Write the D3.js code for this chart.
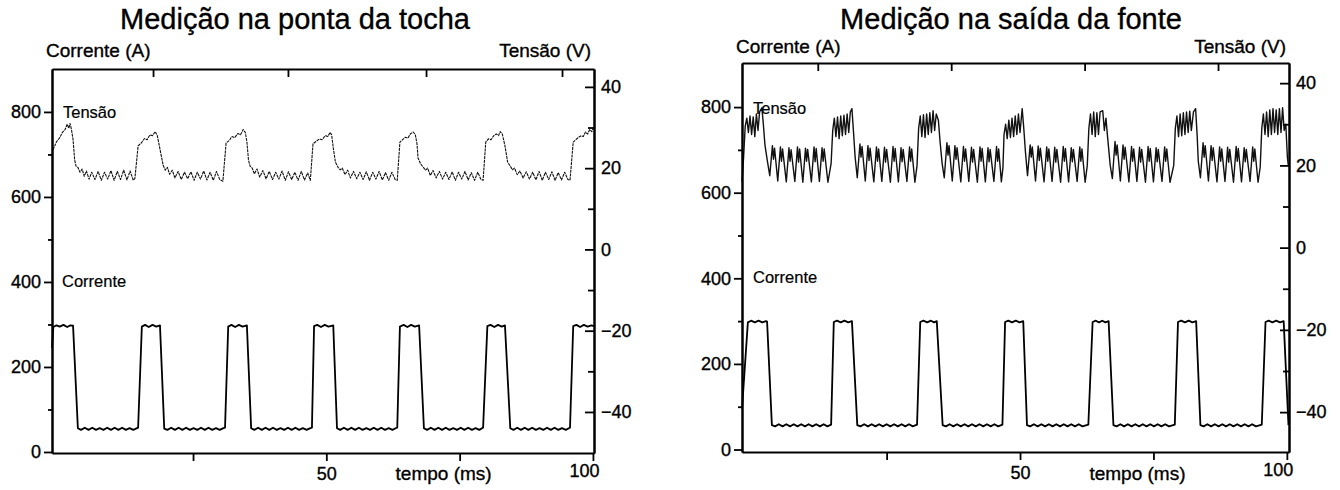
<!DOCTYPE html>
<html>
<head>
<meta charset="utf-8">
<script src="https://cdn.jsdelivr.net/npm/d3@7"></script>
<style>
  body { margin: 0; background: #fff; }
  text { font-family: 'Liberation Sans', Arial, sans-serif; fill: #000; stroke: #000; stroke-width: 0.35px; }
</style>
</head>
<body>
<svg id="chart"></svg>
<script>
// tempo (ms), corrente (A) / tensão (V)

// --- medição na ponta da tocha ---
const correnteTocha = [
  [-1.45, 245], [-1.2, 294], [-0.6, 298], [0, 295], [0.7, 299], [1.4, 294], [2.0, 298], [2.5, 297], [3.4, 56],
  [4.0, 52], [4.7, 57], [5.4, 52], [6.1, 57], [6.8, 52], [7.5, 56], [8.2, 52], [8.9, 57], [9.6, 52], [10.3, 57], [11.0, 52], [11.7, 57], [12.4, 52], [13.1, 56], [13.8, 52], [14.5, 56], [14.7, 57],
  [15.4, 295], [16.0, 299], [16.7, 294], [17.4, 299], [18.1, 295], [18.8, 298], [19.6, 55],
  [20.2, 52], [20.9, 57], [21.6, 52], [22.3, 57], [23.0, 52], [23.7, 57], [24.4, 52], [25.1, 56], [25.8, 52], [26.5, 57], [27.2, 52], [27.9, 57], [28.6, 52], [29.3, 56], [30.0, 52], [30.7, 56], [31.0, 57],
  [31.6, 295], [32.2, 299], [32.9, 294], [33.6, 299], [34.3, 295], [35.1, 298], [35.9, 56],
  [36.5, 52], [37.2, 57], [37.9, 52], [38.6, 57], [39.3, 52], [40.0, 57], [40.7, 52], [41.4, 56], [42.1, 52], [42.8, 57], [43.5, 52], [44.2, 57], [44.9, 52], [45.6, 56], [46.3, 52], [47.0, 56], [47.3, 57],
  [47.7, 296], [48.3, 299], [49.0, 294], [49.7, 299], [50.4, 295], [51.3, 298], [52.0, 56],
  [52.6, 52], [53.3, 57], [54.0, 52], [54.7, 57], [55.4, 52], [56.1, 57], [56.8, 52], [57.5, 56], [58.2, 52], [58.9, 57], [59.6, 52], [60.3, 57], [61.0, 52], [61.7, 56], [62.4, 52], [63.0, 56], [63.3, 57],
  [63.8, 295], [64.5, 299], [65.2, 294], [65.9, 299], [66.6, 295], [67.4, 298], [68.3, 56],
  [68.9, 52], [69.6, 57], [70.3, 52], [71.0, 57], [71.7, 52], [72.4, 57], [73.1, 52], [73.8, 56], [74.5, 52], [75.2, 57], [75.9, 52], [76.6, 57], [77.3, 52], [78.0, 56], [78.7, 52], [79.2, 56], [79.4, 57],
  [80.2, 296], [80.8, 299], [81.5, 294], [82.2, 299], [82.9, 295], [83.5, 298], [84.5, 56],
  [85.1, 52], [85.8, 57], [86.5, 52], [87.2, 57], [87.9, 52], [88.6, 57], [89.3, 52], [90.0, 56], [90.7, 52], [91.4, 57], [92.1, 52], [92.8, 57], [93.5, 52], [94.2, 56], [94.9, 52], [95.5, 56], [95.7, 57],
  [96.3, 296], [96.9, 299], [97.6, 294], [98.3, 299], [99.0, 295], [99.7, 298], [100.2, 296]
]

const tensaoTocha = [
  [-1.26, 24.5], [-0.6, 26.5], [0, 27.5], [0.5, 28.8], [1.0, 29.5], [1.4, 30.8], [1.7, 29.8], [1.93, 31.0], [2.2, 29.5], [2.5, 27], [2.8, 22], [3.06, 20.5],
  [3.4, 20.2], [3.8, 19.0], [4.2, 19.8], [4.6, 18.0], [5.0, 19.3], [5.5, 17.3], [6.0, 19.0], [6.6, 17.2], [7.2, 19.2], [7.8, 17.0], [8.4, 19.0], [9.0, 17.3], [9.6, 19.4], [10.2, 17.0], [10.8, 19.2], [11.4, 17.2], [12.0, 19.5], [12.6, 17.1], [13.2, 19.3], [13.8, 17.0], [14.1, 17.5],
  [14.7, 25.5], [15.3, 26.2], [15.9, 27.3], [16.4, 27.0], [16.9, 28.2], [17.4, 28.0], [17.9, 29.0], [18.3, 28.0], [18.9, 24], [19.4, 20.7],
  [19.8, 19.5], [20.2, 20.2], [20.6, 18.5], [21.1, 19.5], [21.6, 17.6], [22.2, 19.2], [22.8, 17.2], [23.4, 19.0], [24.0, 17.4], [24.6, 19.1], [25.2, 17.0], [25.8, 19.0], [26.4, 17.3], [27.0, 19.3], [27.6, 17.1], [28.2, 19.0], [28.8, 17.0], [29.4, 19.2], [30.0, 17.2], [30.6, 16.8],
  [31.2, 26.2], [31.8, 26.8], [32.3, 27.8], [32.8, 27.5], [33.4, 28.5], [33.9, 28.2], [34.4, 29.5], [34.8, 28.8], [35.1, 26.5], [35.4, 22], [35.7, 20.5],
  [36.1, 20.0], [36.5, 18.6], [37.0, 19.8], [37.5, 17.8], [38.1, 19.4], [38.7, 17.4], [39.3, 19.2], [39.9, 17.2], [40.5, 19.0], [41.1, 17.3], [41.7, 19.3], [42.3, 17.0], [42.9, 19.1], [43.5, 17.2], [44.1, 19.0], [44.7, 17.0], [45.3, 19.2], [45.9, 17.1], [46.5, 18.8], [47.0, 17.0],
  [47.5, 26.0], [48.1, 26.6], [48.7, 27.2], [49.2, 27.0], [49.8, 28.0], [50.3, 27.8], [50.7, 28.8], [51.0, 28.2], [51.3, 25], [51.7, 21.5], [52.2, 20.2],
  [52.6, 19.6], [53.0, 20.0], [53.5, 18.4], [54.0, 19.5], [54.5, 17.6], [55.1, 19.2], [55.7, 17.4], [56.3, 19.0], [56.9, 17.2], [57.5, 19.1], [58.1, 17.0], [58.7, 19.0], [59.3, 17.3], [59.9, 19.2], [60.5, 17.1], [61.1, 18.9], [61.7, 17.0], [62.3, 19.0], [62.9, 17.2], [63.3, 17.0],
  [63.8, 26.4], [64.3, 27.0], [64.8, 27.6], [65.3, 27.4], [65.8, 28.5], [66.3, 28.9], [66.7, 28.2], [67.0, 26], [67.2, 22.5], [67.7, 21.0], [68.2, 20.2],
  [68.6, 19.5], [69.0, 20.0], [69.5, 18.2], [70.0, 19.4], [70.6, 17.6], [71.2, 19.2], [71.8, 17.3], [72.4, 19.0], [73.0, 17.2], [73.6, 19.1], [74.2, 17.0], [74.8, 19.0], [75.4, 17.3], [76.0, 19.2], [76.6, 17.1], [77.2, 18.9], [77.8, 17.0], [78.4, 19.0], [79.0, 17.2], [79.4, 17.0],
  [79.9, 26.4], [80.4, 27.2], [80.9, 27.0], [81.4, 28.0], [81.9, 28.4], [82.3, 28.0], [82.6, 29.0], [83.0, 28.4], [83.5, 25.5], [84.0, 21.5], [84.5, 20.5],
  [84.9, 19.6], [85.3, 20.0], [85.8, 18.4], [86.3, 19.3], [86.9, 17.6], [87.5, 19.1], [88.1, 17.3], [88.7, 19.0], [89.3, 17.1], [89.9, 19.2], [90.5, 17.0], [91.1, 19.0], [91.7, 17.2], [92.3, 19.1], [92.9, 17.0], [93.5, 18.9], [94.1, 17.1], [94.7, 19.0], [95.3, 17.2], [95.7, 17.0],
  [96.3, 26.4], [96.8, 27.0], [97.3, 27.6], [97.8, 28.0], [98.2, 27.8], [98.6, 28.9], [99.0, 28.4], [99.4, 29.5], [99.8, 29.0], [100.1, 30.0]
]

// --- medição na saída da fonte ---
const correnteFonte = [
  [-2.1, 95], [-1.0, 297], [-0.4, 301], [0.3, 297], [1.0, 301], [1.7, 297], [2.4, 300], [2.6, 299], [3.5, 57],
  [4.1, 54], [4.8, 59], [5.5, 54], [6.2, 59], [6.9, 54], [7.6, 59], [8.3, 54], [9.0, 59], [9.7, 54], [10.4, 59], [11.1, 54], [11.8, 59], [12.5, 54], [13.2, 59], [13.9, 54], [14.6, 58],
  [15.1, 298], [15.7, 301], [16.4, 297], [17.1, 301], [17.8, 297], [18.5, 300], [19.5, 57],
  [20.1, 54], [20.8, 59], [21.5, 54], [22.2, 59], [22.9, 54], [23.6, 59], [24.3, 54], [25.0, 59], [25.7, 54], [26.4, 59], [27.1, 54], [27.8, 59], [28.5, 54], [29.2, 59], [29.9, 54], [30.7, 58],
  [31.3, 298], [31.9, 301], [32.6, 297], [33.3, 301], [33.9, 297], [34.4, 300], [35.5, 57],
  [36.1, 54], [36.8, 59], [37.5, 54], [38.2, 59], [38.9, 54], [39.6, 59], [40.3, 54], [41.0, 59], [41.7, 54], [42.4, 59], [43.1, 54], [43.8, 59], [44.5, 54], [45.2, 59], [45.9, 54], [46.7, 58],
  [47.2, 298], [47.8, 301], [48.5, 297], [49.2, 301], [49.9, 297], [50.6, 300], [51.3, 57],
  [51.9, 54], [52.6, 59], [53.3, 54], [54.0, 59], [54.7, 54], [55.4, 59], [56.1, 54], [56.8, 59], [57.5, 54], [58.2, 59], [58.9, 54], [59.6, 59], [60.3, 54], [61.0, 59], [61.7, 54], [62.8, 58],
  [63.6, 298], [64.2, 301], [64.8, 297], [65.4, 301], [66.0, 297], [66.6, 300], [67.5, 57],
  [68.1, 54], [68.8, 59], [69.5, 54], [70.2, 59], [70.9, 54], [71.6, 59], [72.3, 54], [73.0, 59], [73.7, 54], [74.4, 59], [75.1, 54], [75.8, 59], [76.5, 54], [77.2, 59], [77.9, 54], [79.0, 58],
  [79.6, 298], [80.2, 301], [80.9, 297], [81.6, 301], [82.3, 297], [83.0, 300], [83.8, 57],
  [84.4, 54], [85.1, 59], [85.8, 54], [86.5, 59], [87.2, 54], [87.9, 59], [88.6, 54], [89.3, 59], [90.0, 54], [90.7, 59], [91.4, 54], [92.1, 59], [92.8, 54], [93.5, 59], [94.2, 54], [95.3, 58],
  [96.0, 298], [96.6, 301], [97.3, 297], [98.0, 301], [98.7, 297], [99.4, 300], [100.3, 57]
]

const tensaoFonte = [
  [-2.1, 16.0], [-1.8, 22], [-1.5, 29.5], [-1.2, 31.5], [-0.9, 28.0], [-0.6, 32.0], [-0.3, 27.5], [0.0, 31.8], [0.3, 27.0], [0.6, 32.5], [0.9, 28.5], [1.2, 33.0], [1.63, 34.0], [1.9, 30], [2.2, 25.0], [2.6, 21.5], [3.1, 17.5],
  [3.6, 24.8], [3.8, 21.5], [4.0, 24.2], [4.6, 16.2], [5.1, 24.5], [5.3, 21.0], [5.5, 24.0], [6.2, 16.0], [6.7, 24.3], [6.9, 21.0], [7.1, 23.8], [7.8, 16.1], [8.3, 24.5], [8.5, 20.8], [8.7, 24.0], [9.3, 15.9],
  [9.8, 24.2], [10.0, 21.0], [10.2, 23.9], [10.9, 16.0], [11.4, 24.5], [11.6, 20.9], [11.8, 24.1], [12.4, 16.1], [12.9, 24.3], [13.1, 21.0], [13.3, 24.0], [14.0, 15.9], [14.6, 20.5],
  [14.9, 28.5], [15.2, 31.5], [15.5, 27.0], [15.8, 31.8], [16.1, 26.5], [16.4, 32.0], [16.7, 27.2], [17.0, 32.2], [17.3, 27.5], [17.6, 32.5], [17.9, 28.0], [18.2, 33.0], [18.5, 33.8], [18.8, 28], [19.1, 22.0], [19.5, 17.0],
  [20.0, 25.2], [20.2, 22.0], [20.4, 24.6], [21.0, 16.2], [21.5, 24.8], [21.7, 21.2], [21.9, 24.2], [22.6, 16.0], [23.1, 24.5], [23.3, 21.0], [23.5, 24.0], [24.1, 16.1], [24.6, 24.4], [24.8, 20.8], [25.0, 23.9], [25.7, 15.9],
  [26.2, 24.6], [26.4, 21.0], [26.6, 24.1], [27.2, 16.0], [27.7, 24.3], [27.9, 20.9], [28.1, 23.9], [28.8, 16.1], [29.3, 24.5], [29.5, 21.0], [29.7, 24.0], [30.3, 15.9], [30.7, 20.0],
  [31.0, 29.0], [31.3, 32.0], [31.6, 27.0], [31.9, 32.3], [32.2, 26.8], [32.5, 32.5], [32.8, 27.5], [33.1, 32.8], [33.4, 28.0], [33.7, 33.3], [34.0, 28.5], [34.3, 32.5], [34.7, 31.0], [35.0, 26.0], [35.4, 20.5], [35.8, 17.0],
  [36.3, 25.5], [36.5, 22.5], [36.7, 24.8], [37.3, 16.2], [37.8, 24.8], [38.0, 21.5], [38.2, 24.3], [38.9, 16.0], [39.4, 24.6], [39.6, 21.0], [39.8, 24.0], [40.4, 16.1], [40.9, 24.4], [41.1, 20.8], [41.3, 23.9], [42.0, 15.9],
  [42.5, 24.5], [42.7, 21.0], [42.9, 24.1], [43.5, 16.0], [44.0, 24.3], [44.2, 20.9], [44.4, 23.9], [45.1, 16.1], [45.6, 24.6], [45.8, 21.0], [46.0, 24.0], [46.5, 16.0], [46.8, 19.5],
  [47.0, 27.5], [47.3, 30.0], [47.6, 26.5], [47.9, 31.0], [48.2, 26.8], [48.5, 31.5], [48.8, 27.0], [49.1, 32.0], [49.4, 27.5], [49.7, 32.5], [50.0, 28.0], [50.4, 33.8], [50.7, 29], [51.0, 23.5], [51.4, 17.5],
  [51.9, 25.0], [52.1, 22.0], [52.3, 24.5], [52.9, 16.2], [53.4, 24.7], [53.6, 21.2], [53.8, 24.2], [54.5, 16.0], [55.0, 24.5], [55.2, 21.0], [55.4, 24.0], [56.0, 16.1], [56.5, 24.4], [56.7, 20.8], [56.9, 23.9], [57.6, 15.9],
  [58.1, 24.6], [58.3, 21.0], [58.5, 24.1], [59.1, 16.0], [59.6, 24.3], [59.8, 20.9], [60.0, 23.9], [60.7, 16.1], [61.2, 24.5], [61.4, 21.0], [61.6, 24.0], [62.2, 15.9], [62.6, 20.0],
  [62.9, 29.0], [63.2, 32.5], [63.5, 27.5], [63.8, 33.0], [64.1, 27.0], [64.4, 32.8], [64.7, 27.5], [65.0, 33.0], [65.5, 33.3], [65.8, 28.5], [66.1, 31.5], [66.4, 27.0], [66.9, 20.0], [67.3, 16.8],
  [67.8, 25.8], [68.0, 22.5], [68.2, 25.0], [68.8, 16.2], [69.3, 25.0], [69.5, 21.5], [69.7, 24.4], [70.4, 16.0], [70.9, 24.6], [71.1, 21.0], [71.3, 24.0], [71.9, 16.1], [72.4, 24.4], [72.6, 20.8], [72.8, 23.9], [73.5, 15.9],
  [74.0, 24.6], [74.2, 21.0], [74.4, 24.1], [75.0, 16.0], [75.5, 24.3], [75.7, 20.9], [75.9, 23.9], [76.6, 16.1], [77.1, 24.5], [77.3, 21.0], [77.5, 24.0], [78.1, 15.9], [78.8, 20.0],
  [79.1, 29.0], [79.4, 32.0], [79.7, 27.0], [80.0, 32.5], [80.3, 27.2], [80.6, 32.8], [80.9, 27.5], [81.2, 33.0], [81.5, 28.0], [81.8, 33.2], [82.1, 28.5], [82.5, 33.0], [82.9, 33.8], [83.2, 27.0], [83.4, 21.0], [83.8, 17.0],
  [84.3, 25.5], [84.5, 22.0], [84.7, 24.8], [85.3, 16.2], [85.8, 24.8], [86.0, 21.2], [86.2, 24.3], [86.9, 16.0], [87.4, 24.5], [87.6, 21.0], [87.8, 24.0], [88.4, 16.1], [88.9, 24.4], [89.1, 20.8], [89.3, 23.9], [90.0, 15.9],
  [90.5, 24.6], [90.7, 21.0], [90.9, 24.1], [91.5, 16.0], [92.0, 24.3], [92.2, 20.9], [92.4, 23.9], [93.1, 16.1], [93.6, 24.5], [93.8, 21.0], [94.0, 24.0], [94.6, 15.9], [95.0, 19.5],
  [95.3, 29.0], [95.6, 32.5], [95.9, 27.5], [96.2, 33.0], [96.5, 27.0], [96.8, 33.5], [97.1, 27.5], [97.4, 33.8], [97.7, 28.0], [98.0, 33.5], [98.3, 27.5], [98.6, 33.8], [98.9, 28.0], [99.2, 34.0], [99.5, 28.5], [99.8, 30.0], [100.1, 22.0], [100.3, 19.6]
]

// ticks
const correnteTicks = [0, 200, 400, 600, 800]
const correnteMinor = [100, 300, 500, 700]
const tensaoTicks = [-40, -20, 0, 20, 40]
const tensaoMinor = [-30, -10, 10, 30]
const tempoTicks = [25, 50, 75, 100]
const tempoLabels = [50, 100]

const panels = [
  {
    title: 'Medição na ponta da tocha', titleX: 295,
    corrente: correnteTocha, tensao: tensaoTocha, tensaoDash: '3,0.8', tensaoWidth: 1.1,
    left: 52, right: 594, top: 69, bottom: 453,
    tDomain: [-1.45, 100.2], aDomain: [-2.4, 901], vDomain: [-50.1, 44.4],
    topTicks: [17.5, 42.8, 68.7, 94.2],
    tensaoLabel: [63, 118], correnteLabel: [62, 287], axisTitleY: 57
  },
  {
    title: 'Medição na saída da fonte', titleX: 1011,
    corrente: correnteFonte, tensao: tensaoFonte, tensaoDash: null, tensaoWidth: 1.4,
    left: 742, right: 1289, top: 63, bottom: 452,
    tDomain: [-2.1, 100.4], aDomain: [-5.8, 903], vDomain: [-49.7, 44.9],
    topTicks: [12.1, 37.1, 62.1, 87.1],
    tensaoLabel: [753, 114], correnteLabel: [753, 283], axisTitleY: 53
  }
]

function styleAxis (g) {
  g.attr('font-size', null).attr('font-family', null)
  g.select('.domain').attr('stroke', '#000').attr('stroke-width', 2)
  g.selectAll('.tick line').attr('stroke', '#000').attr('stroke-width', 1.8)
  g.selectAll('.tick text').style('font-size', '18px')
}

function drawPanel (svg, p) {
  let x = d3.scaleLinear().domain(p.tDomain).range([p.left, p.right])
  let yA = d3.scaleLinear().domain(p.aDomain).range([p.bottom, p.top])
  let yV = d3.scaleLinear().domain(p.vDomain).range([p.bottom, p.top])
  let g = svg.append('g')

  // curves
  let lineA = d3.line().x(d => x(d[0])).y(d => yA(d[1]))
  let lineV = d3.line().x(d => x(d[0])).y(d => yV(d[1]))

  g.append('path')
    .attr('d', lineV(p.tensao))
    .attr('fill', 'none')
    .attr('stroke', '#111')
    .attr('stroke-width', p.tensaoWidth)
    .attr('stroke-dasharray', p.tensaoDash)
    .attr('stroke-linejoin', 'round')

  g.append('path')
    .attr('d', lineA(p.corrente))
    .attr('fill', 'none')
    .attr('stroke', '#000')
    .attr('stroke-width', 1.8)
    .attr('stroke-linejoin', 'round')

  // axes
  g.append('g')
    .attr('transform', 'translate(' + p.left + ',0)')
    .call(d3.axisLeft(yA).tickValues(correnteTicks).tickSize(8).tickSizeOuter(0).tickPadding(3))
    .call(styleAxis)
  g.append('g')
    .attr('transform', 'translate(' + p.left + ',0)')
    .call(d3.axisLeft(yA).tickValues(correnteMinor).tickSize(4).tickSizeOuter(0).tickFormat(''))
    .call(styleAxis)

  g.append('g')
    .attr('transform', 'translate(' + p.right + ',0)')
    .call(d3.axisRight(yV).tickValues(tensaoTicks).tickSize(-9).tickSizeOuter(0).tickPadding(7))
    .call(styleAxis)
  g.append('g')
    .attr('transform', 'translate(' + p.right + ',0)')
    .call(d3.axisRight(yV).tickValues(tensaoMinor).tickSize(-6).tickSizeOuter(0).tickFormat(''))
    .call(styleAxis)

  g.append('g')
    .attr('transform', 'translate(0,' + p.bottom + ')')
    .call(d3.axisBottom(x).tickValues(tempoTicks).tickSize(8).tickSizeOuter(0).tickPadding(6)
      .tickFormat(d => tempoLabels.includes(d) ? d : ''))
    .call(styleAxis)
    .call(a => a.selectAll('.tick text').filter(d => d === 100).attr('text-anchor', 'end').attr('dx', 6).attr('dy', '0.55em'))

  g.append('g')
    .attr('transform', 'translate(0,' + p.top + ')')
    .call(d3.axisTop(x).tickValues(p.topTicks).tickSize(-8).tickSizeOuter(0).tickFormat(''))
    .call(styleAxis)

  // texts
  g.append('text')
    .attr('x', p.titleX).attr('y', 29)
    .attr('text-anchor', 'middle')
    .style('font-size', '29px')
    .text(p.title)

  g.append('text')
    .attr('x', p.left - 6).attr('y', p.axisTitleY)
    .style('font-size', '19px')
    .text('Corrente (A)')

  g.append('text')
    .attr('x', p.right - 3).attr('y', p.axisTitleY)
    .attr('text-anchor', 'end')
    .style('font-size', '19px')
    .text('Tensão (V)')

  g.append('text')
    .attr('x', x(72)).attr('y', 480)
    .attr('text-anchor', 'middle')
    .style('font-size', '19px')
    .text('tempo (ms)')

  g.append('text')
    .attr('x', p.tensaoLabel[0]).attr('y', p.tensaoLabel[1])
    .style('font-size', '16.5px')
    .style('stroke-width', '0.2px')
    .text('Tensão')

  g.append('text')
    .attr('x', p.correnteLabel[0]).attr('y', p.correnteLabel[1])
    .style('font-size', '16.5px')
    .style('stroke-width', '0.2px')
    .text('Corrente')
}

let svg = d3.select('#chart')
  .attr('width', 1340)
  .attr('height', 490)

panels.forEach(p => drawPanel(svg, p))
</script>
</body>
</html>
